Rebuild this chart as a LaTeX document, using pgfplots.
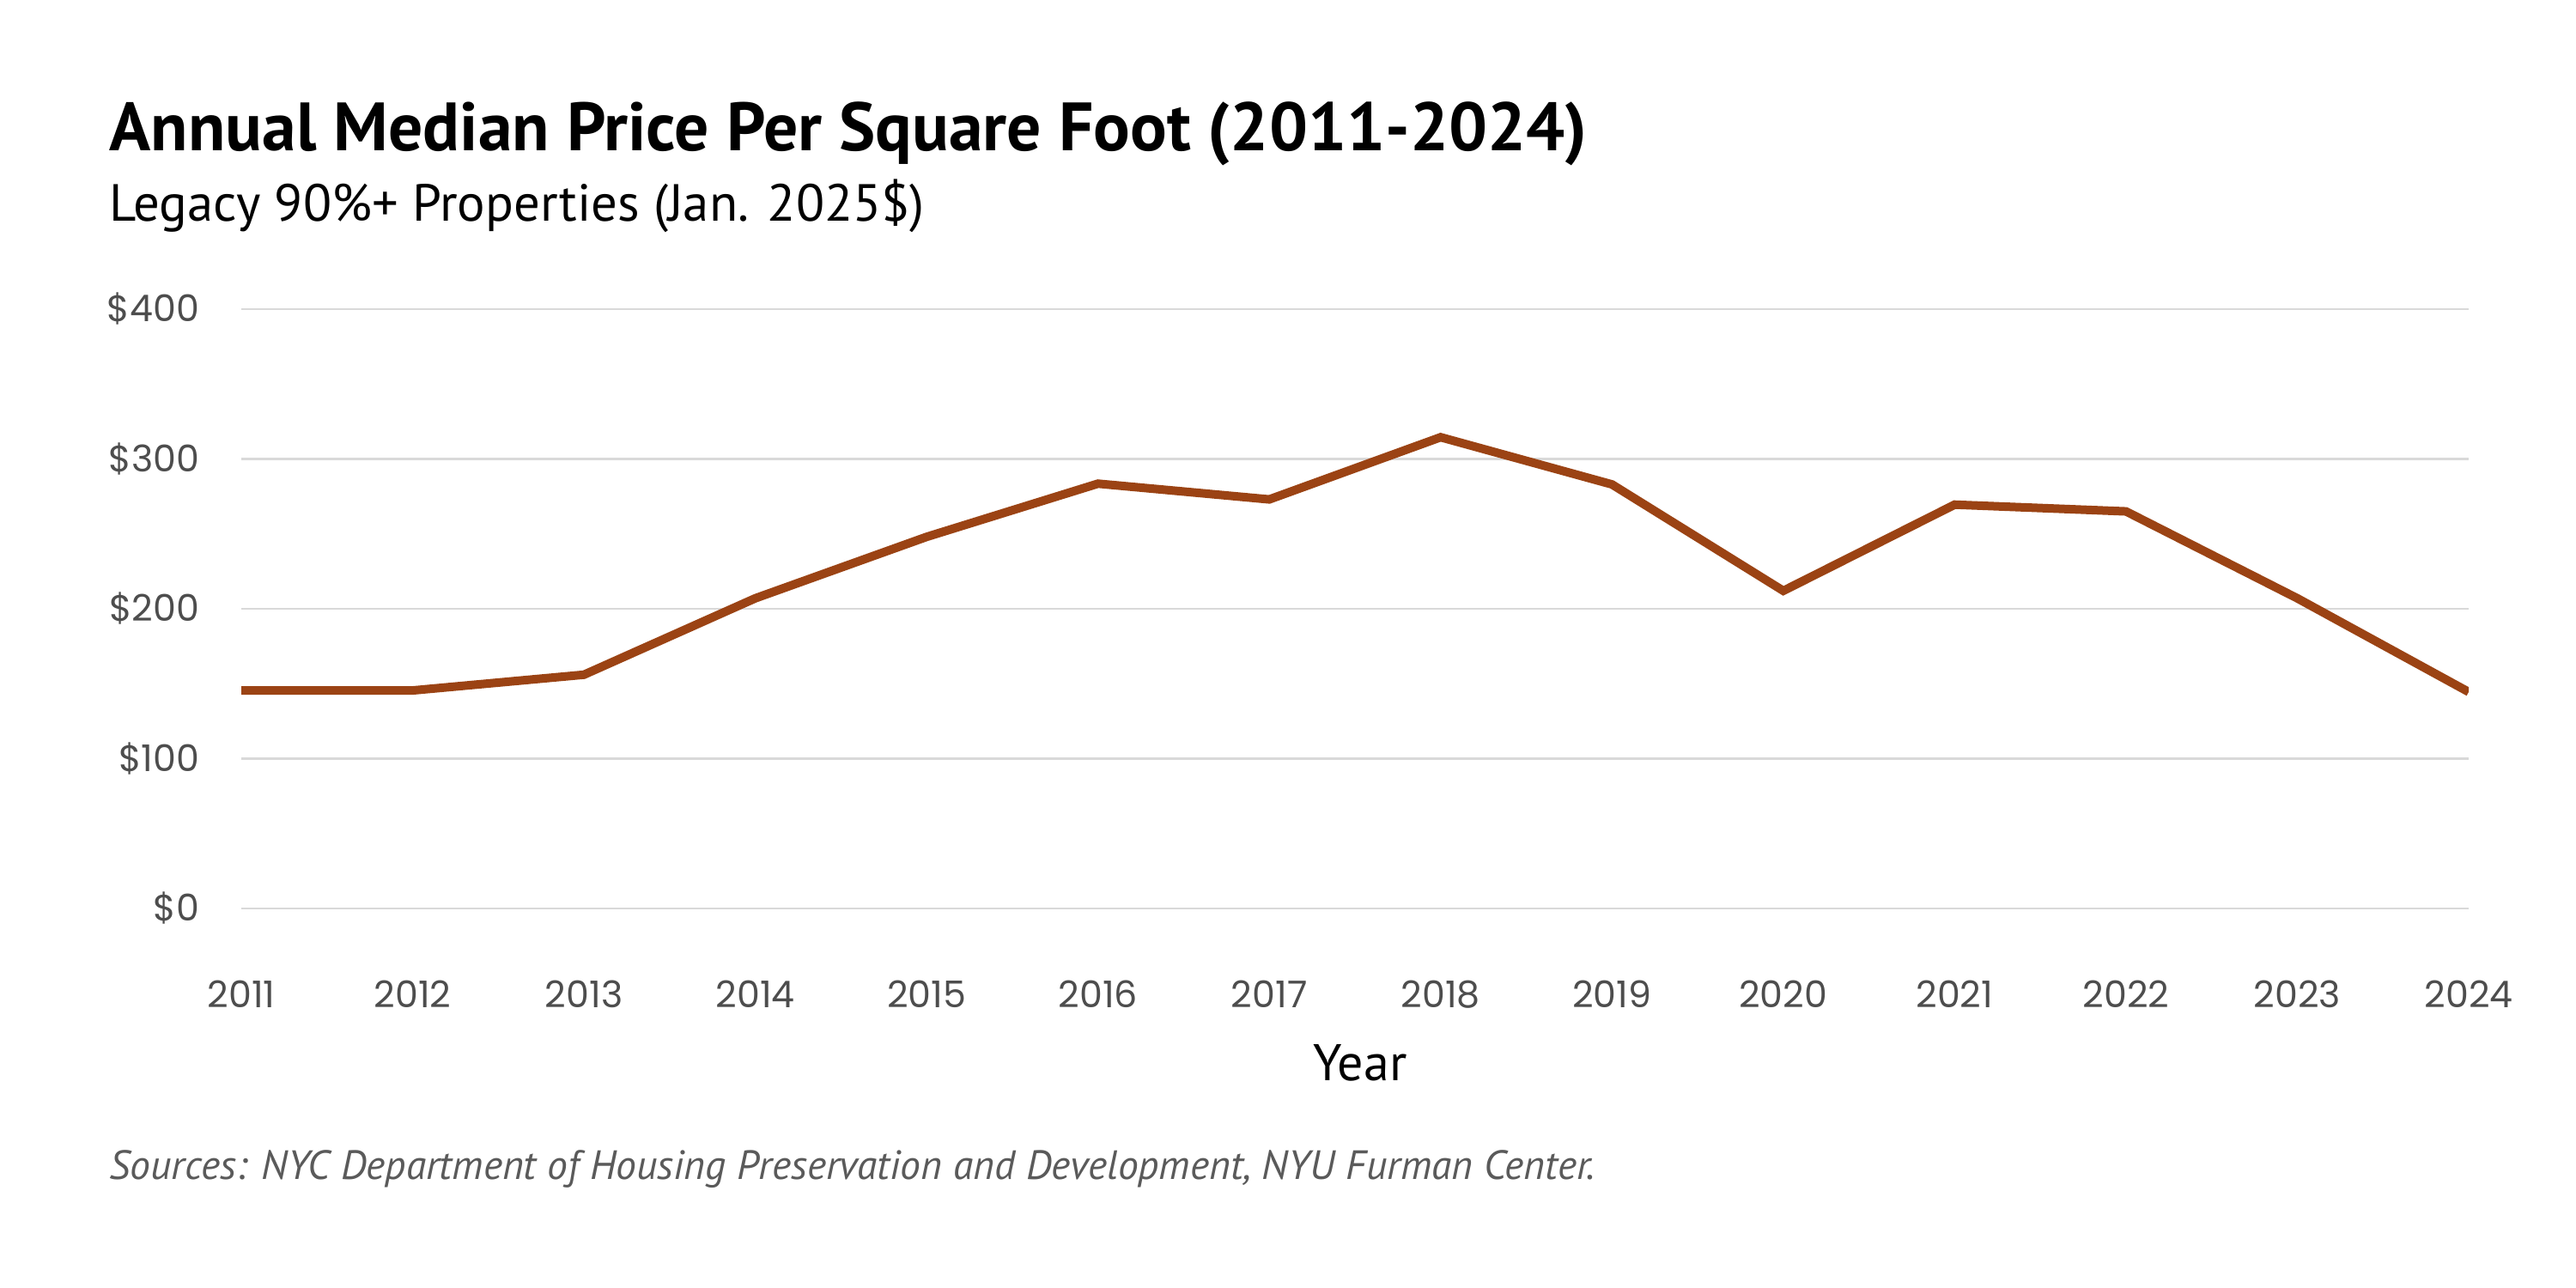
\documentclass[border=0pt]{standalone}
\usepackage{fontspec}
\setmainfont{PT Sans}
\newfontfamily\tickfont{Poppins}
\usepackage{pgfplots}
\pgfplotsset{compat=1.18}
\definecolor{rust}{RGB}{155,67,20}
\definecolor{gridgray}{RGB}{217,217,217}
\definecolor{ticktext}{RGB}{77,77,77}
\definecolor{notegray}{RGB}{90,90,90}
\begin{document}
\begin{tikzpicture}
\path[use as bounding box] (0pt,0pt) rectangle (750pt,375pt);
\begin{axis}[
  at={(70.25pt,110.5pt)}, anchor=south west,
  scale only axis, width=648.5pt, height=174.5pt,
  xmin=2011, xmax=2024, ymin=0, ymax=400,
  axis line style={draw=none}, tick style={draw=none},
  major tick length=0pt,
  ymajorgrids, grid style={gridgray, line width=0.6pt},
  xtick={2011,2012,2013,2014,2015,2016,2017,2018,2019,2020,2021,2022,2023,2024},
  xticklabels={2011,2012,2013,2014,2015,2016,2017,2018,2019,2020,2021,2022,2023,2024},
  ytick={0,100,200,300,400},
  yticklabels={\$0,\$100,\$200,\$300,\$400},
  tick label style={font=\tickfont\fontsize{10.7}{12}\selectfont, text=ticktext},
  yticklabel style={anchor=east, inner sep=0pt, xshift=-12pt},
  xticklabel style={anchor=center, inner sep=0pt, yshift=-25pt},
]
\addplot[rust, line width=2.5pt] coordinates {
(2011,145.5) (2012,145.5) (2013,156) (2014,207) (2015,248) (2016,283.5) (2017,273)
(2018,314.5) (2019,283) (2020,212) (2021,269.5) (2022,265) (2023,207) (2024,144.5)
};
\end{axis}
\node[anchor=base west, inner sep=0pt] at (31.75pt,331pt) {\fontsize{19.9}{23}\selectfont\bfseries Annual Median Price Per Square Foot (2011-2024)};
\node[anchor=base west, inner sep=0pt] at (31.75pt,310.5pt) {\fontsize{15.2}{18}\selectfont Legacy 90\%+ Properties (Jan. 2025\$)};
\node[anchor=center, inner sep=0pt] at (396pt,65.5pt) {\fontsize{15}{18}\selectfont Year};
\node[anchor=west, inner sep=0pt, text=notegray] at (31.75pt,34.5pt) {\fontsize{11.9}{14}\selectfont\itshape Sources: NYC Department of Housing Preservation and Development, NYU Furman Center.};
\end{tikzpicture}
\end{document}
